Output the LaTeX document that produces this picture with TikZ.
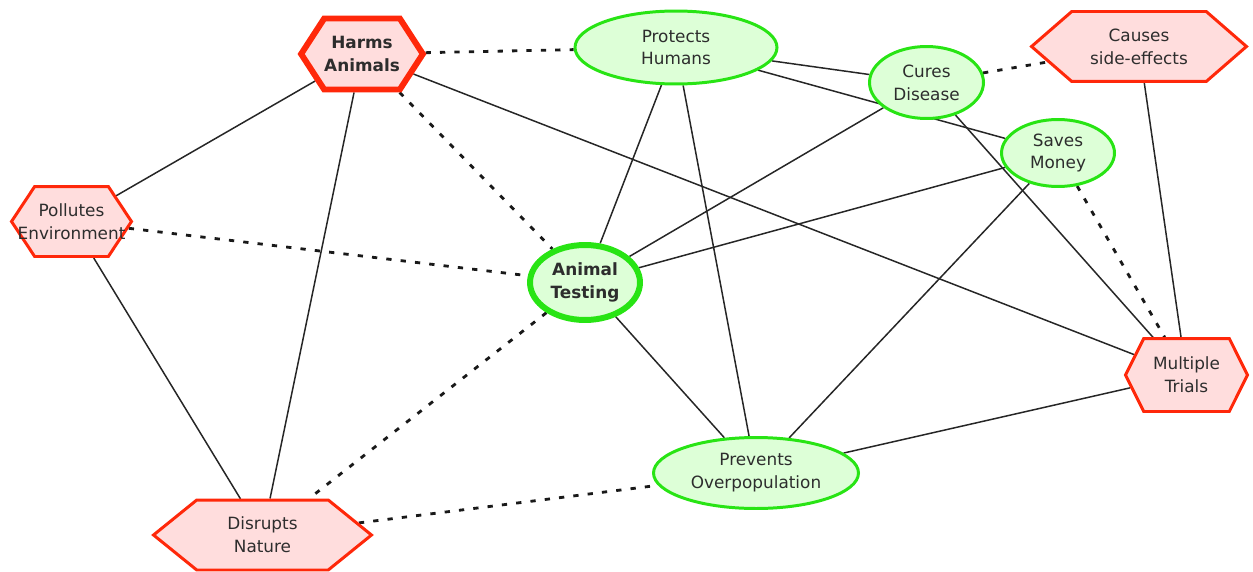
\documentclass[tikz,border=0pt]{standalone}
\usepackage{fontspec}
\setmainfont{DejaVu Sans}
\usetikzlibrary{shapes.geometric,shapes.symbols,backgrounds}
\definecolor{conborder}{RGB}{255,40,10}
\definecolor{confill}{RGB}{255,221,221}
\definecolor{proborder}{RGB}{40,228,20}
\definecolor{profill}{RGB}{221,255,215}
\definecolor{labelgray}{RGB}{45,45,45}
\tikzstyle{con}=[signal,signal to=east and west,draw=conborder,fill=confill,line width=1.7pt,inner sep=0pt,align=center,text=labelgray]
\tikzstyle{pro}=[ellipse,draw=proborder,fill=profill,line width=1.7pt,inner sep=0pt,align=center,text=labelgray]
\tikzstyle{keynode}=[line width=3.4pt,font=\fontsize{9.6}{13}\selectfont\bfseries]
\tikzstyle{link}=[draw=black!85,line width=0.85pt]
\tikzstyle{dotlink}=[draw=black!90,line width=1.6pt,dash pattern=on 3pt off 5.2pt]

\begin{document}
\begin{tikzpicture}[x=0.02cm,y=-0.02cm,font=\fontsize{9.6}{13}\selectfont]
\useasboundingbox (0,0) rectangle (1253,571);

\node[con,keynode,minimum width=2.38cm,minimum height=1.42cm,signal pointer angle=114] (HA) at (362,54) {Harms\\Animals};
\node[con,minimum width=2.4cm,minimum height=1.4cm,signal pointer angle=113] (PE) at (71.5,221.5) {Pollutes\\\makebox[0pt]{Environment}};
\node[con,minimum width=4.36cm,minimum height=1.4cm,signal pointer angle=78] (DN) at (262.5,535) {Disrupts\\Nature};
\node[con,minimum width=4.3cm,minimum height=1.4cm,signal pointer angle=82] (CS) at (1139,46.5) {Causes\\side-effects};
\node[con,minimum width=2.44cm,minimum height=1.46cm,signal pointer angle=127] (MT) at (1186.5,375) {Multiple\\Trials};

\node[pro,minimum width=4.04cm,minimum height=1.46cm] (PH) at (676,47.5) {Protects\\Humans};
\node[pro,minimum width=2.28cm,minimum height=1.44cm] (CD) at (926.5,82.5) {Cures\\Disease};
\node[pro,minimum width=2.26cm,minimum height=1.34cm] (SM) at (1058,153) {Saves\\Money};
\node[pro,keynode,minimum width=2.2cm,minimum height=1.5cm] (AT) at (585,282.5) {Animal\\Testing};
\node[pro,minimum width=4.1cm,minimum height=1.42cm] (PO) at (756,473) {Prevents\\Overpopulation};

\begin{pgfonlayer}{background}
\foreach \a/\b in {HA/PE,HA/DN,HA/MT,PE/DN,PH/AT,PH/PO,PH/CD,PH/SM,CD/AT,CD/MT,CS/MT,SM/AT,SM/PO,AT/PO,PO/MT} {
	\draw[link] (\a) -- (\b);
};
\foreach \a/\b in {HA/PH,HA/AT,PE/AT,AT/DN,DN/PO,CD/CS,SM/MT} {
	\draw[dotlink] (\a) -- (\b);
};
\end{pgfonlayer}

\end{tikzpicture}
\end{document}
